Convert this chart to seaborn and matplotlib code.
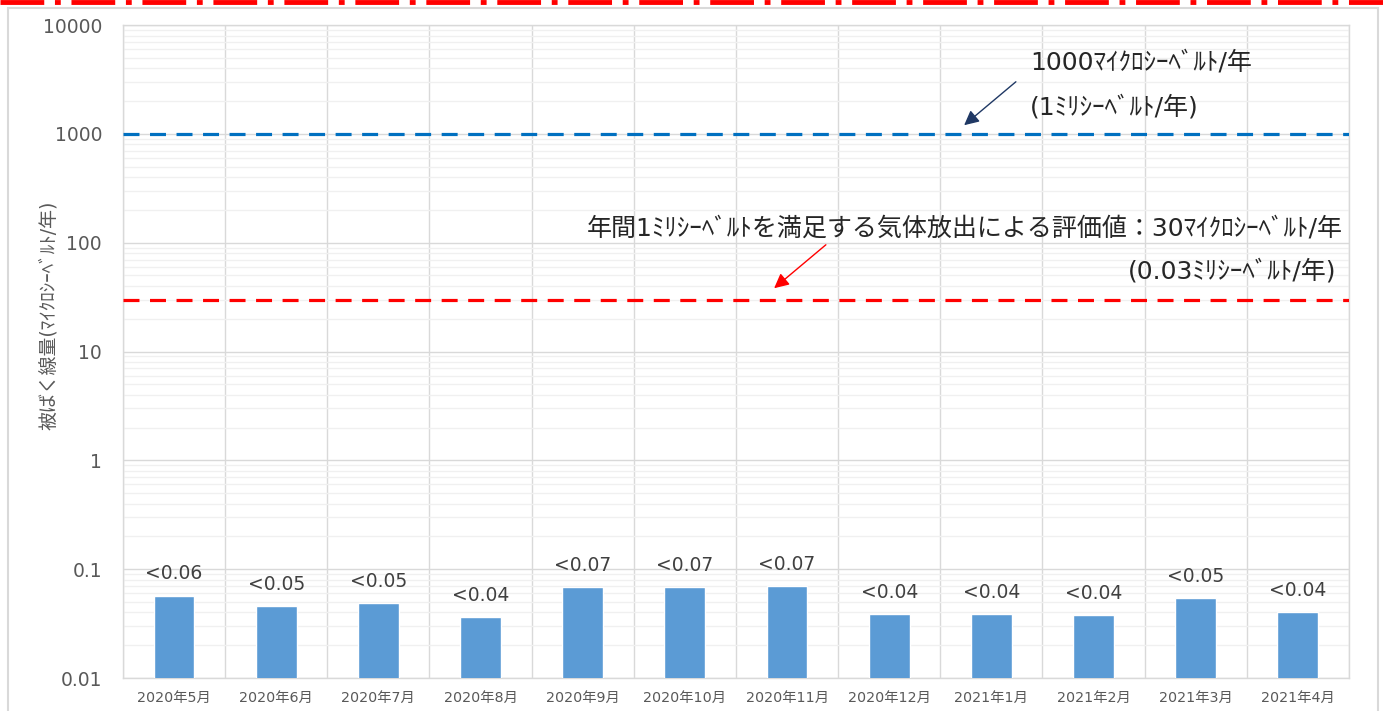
import numpy as np
import pandas as pd
import matplotlib
matplotlib.use("Agg")
import matplotlib.pyplot as plt
import matplotlib.ticker as mticker
from matplotlib.lines import Line2D
from matplotlib.patches import Rectangle
import seaborn as sns

# data
months = ["2020年5月", "2020年6月", "2020年7月", "2020年8月", "2020年9月", "2020年10月",
          "2020年11月", "2020年12月", "2021年1月", "2021年2月", "2021年3月", "2021年4月"]
dose = [0.0565, 0.0457, 0.0487, 0.0362, 0.0683, 0.0683,
        0.0698, 0.0385, 0.0385, 0.0377, 0.054, 0.0402]
bar_labels = ["<0.06", "<0.05", "<0.05", "<0.04", "<0.07", "<0.07",
              "<0.07", "<0.04", "<0.04", "<0.04", "<0.05", "<0.04"]
limit_1msv = 1000
limit_gas = 30
y_ticks = [0.01, 0.1, 1, 10, 100, 1000, 10000]
y_tick_labels = ["0.01", "0.1", "1", "10", "100", "1000", "10000"]

sns.set_style("white")
plt.rcParams["font.family"] = ["DejaVu Sans", "Noto Sans CJK JP"]

df = pd.DataFrame({"month": months, "dose": dose})

fig = plt.figure(figsize=(13.83, 7.11), dpi=100)
ax = fig.add_axes([0.0889, 0.0464, 0.8865, 0.9184])

sns.barplot(data=df, x="month", y="dose", color="#5B9BD5", width=0.4,
            saturation=1, ax=ax, zorder=3)
ax.set_yscale("log")
ax.set_ylim(0.01, 10000)
ax.set_xlim(-0.5, len(months) - 0.5)

ax.yaxis.set_major_locator(mticker.FixedLocator(y_ticks))
ax.set_yticklabels(y_tick_labels)
ax.yaxis.set_minor_locator(mticker.LogLocator(base=10, subs=np.arange(2, 10)))
ax.yaxis.set_minor_formatter(mticker.NullFormatter())
ax.xaxis.set_minor_locator(mticker.FixedLocator(np.arange(-0.5, len(months), 1.0)))

ax.grid(which="major", axis="y", color="#D9D9D9", lw=1, zorder=0)
ax.grid(which="minor", axis="y", color="#F0F0F0", lw=1, zorder=0)
ax.grid(which="minor", axis="x", color="#D9D9D9", lw=1, zorder=0)
ax.set_axisbelow(True)
ax.tick_params(which="both", length=0)
ax.tick_params(axis="y", labelsize=13.5, labelcolor="#595959", pad=15)
ax.tick_params(axis="x", labelsize=10.3, labelcolor="#595959", pad=9)
for s in ax.spines.values():
    s.set_color("#D9D9D9")
    s.set_linewidth(1)

ax.set_xlabel("")
ax.set_ylabel("被ばく線量(ﾏｲｸﾛｼｰﾍﾞﾙﾄ/年)", fontsize=13.6, color="#595959")
ax.yaxis.set_label_coords(-0.053, 0.556)

# bar value labels
for i, (v, lab) in enumerate(zip(dose, bar_labels)):
    ax.annotate(lab, (i, v), xytext=(0, 12), textcoords="offset points",
                ha="center", va="baseline", fontsize=13.5, color="#404040")

# reference lines
ax.axhline(limit_1msv, color="#0070C0", lw=2.3, ls=(0, (5, 3.3)), zorder=4)
ax.axhline(limit_gas, color="#FF0000", lw=2.3, ls=(0, (5, 3.3)), zorder=4)

# annotations
ax.annotate("", xy=(962, 584), xycoords="figure pixels", xytext=(1018, 631),
            textcoords="figure pixels",
            arrowprops=dict(arrowstyle="-|>", color="#1F3864", lw=1, mutation_scale=22))
fig.text(1030 / 1383, 1 - 62 / 711, "1000ﾏｲｸﾛｼｰﾍﾞﾙﾄ/年", fontsize=18, va="center", ha="left")
fig.text(1030 / 1383, 1 - 107 / 711, "(1ﾐﾘｼｰﾍﾞﾙﾄ/年)", fontsize=18, va="center", ha="left")

ax.annotate("", xy=(772, 421), xycoords="figure pixels", xytext=(828, 468),
            textcoords="figure pixels",
            arrowprops=dict(arrowstyle="-|>", color="#FF0000", lw=1, mutation_scale=22))
fig.text(1343 / 1383, 1 - 228 / 711, "年間1ﾐﾘｼｰﾍﾞﾙﾄを満足する気体放出による評価値：30ﾏｲｸﾛｼｰﾍﾞﾙﾄ/年",
         fontsize=18, va="center", ha="right")
fig.text(1336 / 1383, 1 - 271 / 711, "(0.03ﾐﾘｼｰﾍﾞﾙﾄ/年)", fontsize=18, va="center", ha="right")

# chart frame and the red dash-dot border cut at the top
fig.patches.append(Rectangle((8 / 1383, -0.05), 1370 / 1383, 1.05 - 8 / 711,
                             transform=fig.transFigure, fill=False,
                             edgecolor="#D9D9D9", lw=1.5))
fig.lines.append(Line2D([0, 1], [1 - 1.5 / 711, 1 - 1.5 / 711], transform=fig.transFigure,
                        color="#FF0000", lw=3.5, ls=(0, (9, 2.2, 1.2, 2.2))))

fig.savefig("out.png", dpi=100)
